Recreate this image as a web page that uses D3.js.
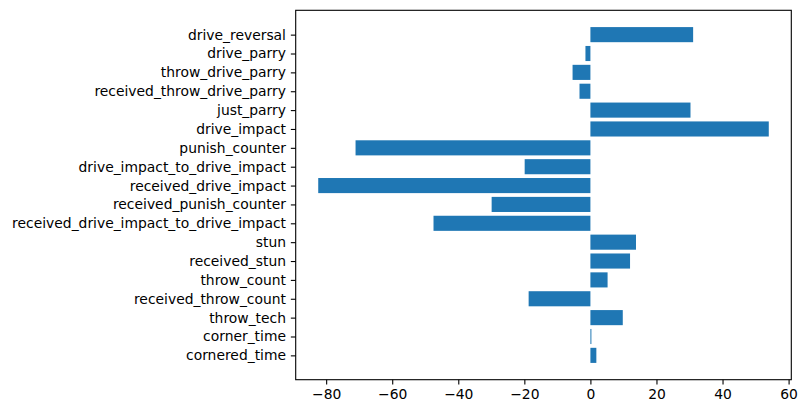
<!DOCTYPE html>
<html><head><meta charset="utf-8">
<script src="https://cdn.jsdelivr.net/npm/d3@7/dist/d3.min.js"></script>
<style>body{margin:0;background:#fff}svg{display:block}text{font-family:"DejaVu Sans",sans-serif}</style>
</head><body><svg id="c" width="807" height="413"></svg>
<script>
const categories = ["drive_reversal","drive_parry","throw_drive_parry","received_throw_drive_parry","just_parry","drive_impact","punish_counter","drive_impact_to_drive_impact","received_drive_impact","received_punish_counter","received_drive_impact_to_drive_impact","stun","received_stun","throw_count","received_throw_count","throw_tech","corner_time","cornered_time"];
const values = [31.1,-1.5,-5.4,-3.3,30.3,54.0,-71.1,-19.9,-82.4,-29.9,-47.5,13.8,12.0,5.2,-18.7,9.8,0.3,1.8];
const xTicks = [-80,-60,-40,-20,0,20,40,60];

const svg = d3.select("#c");
const L=295.7, R=791.3, T=10.3, B=379.7;
const n = categories.length;
const mn = d3.min(values), mx = d3.max(values), rg = mx-mn;
const x = d3.scaleLinear().domain([mn-0.05*rg, mx+0.05*rg]).range([L,R]);
const ylo = -0.4 - 0.05*(n-1+0.8), yhi = n-1+0.4 + 0.05*(n-1+0.8);
const y = d3.scaleLinear().domain([ylo,yhi]).range([B,T]);
const pos = (i)=> n-1-i;

svg.append("g").selectAll("rect").data(values).join("rect")
  .attr("x", d=>x(Math.min(0,d)))
  .attr("width", d=>Math.abs(x(d)-x(0)))
  .attr("y", (d,i)=>y(pos(i)+0.4))
  .attr("height", (d,i)=>y(pos(i)-0.4)-y(pos(i)+0.4))
  .attr("fill","#1f77b4");

const xa = svg.append("g").attr("transform",`translate(0,${B})`)
  .call(d3.axisBottom(x).tickValues(xTicks).tickSize(4.86).tickPadding(4.86).tickFormat(d=>d<0?"\u2212"+Math.abs(d):d));
const ya = svg.append("g").attr("transform",`translate(${L},0)`)
  .call(d3.axisLeft(y).tickValues(categories.map((c,i)=>pos(i))).tickSize(4.86).tickPadding(4.86).tickFormat(v=>categories[n-1-v]));
[xa,ya].forEach(a=>{a.select(".domain").remove();a.selectAll("line").attr("stroke","#000").attr("stroke-width",1.1);a.selectAll("text").attr("font-size","13.89px").attr("fill","#000").attr("font-family","DejaVu Sans");});
svg.append("rect").attr("x",L).attr("y",T).attr("width",R-L).attr("height",B-T).attr("fill","none").attr("stroke","#000").attr("stroke-width",1.1);
</script></body></html>
